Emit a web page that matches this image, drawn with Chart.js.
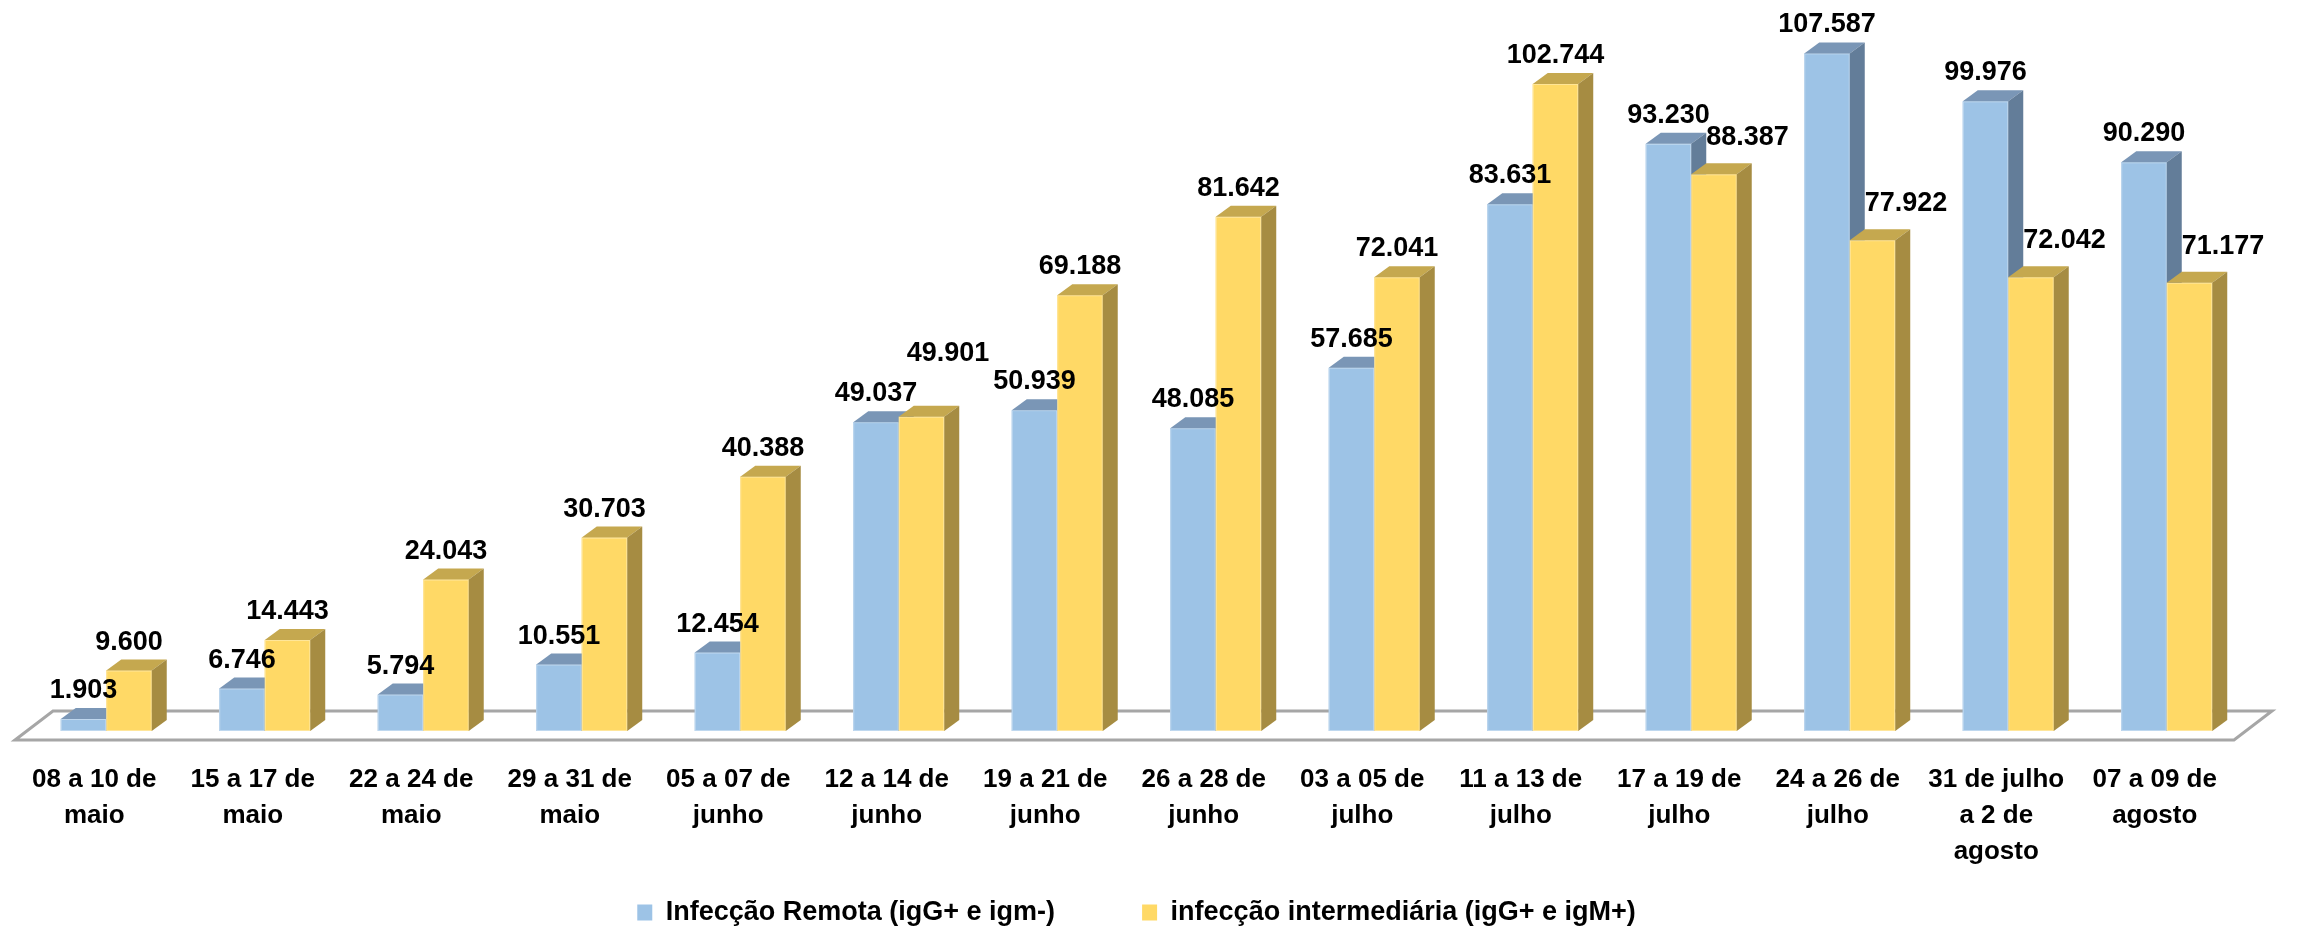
<!DOCTYPE html>
<html lang="pt-BR">
<head>
<meta charset="utf-8">
<title>Infecção remota x intermediária</title>
<script src="https://cdn.jsdelivr.net/npm/chart.js@4.4.1/dist/chart.umd.min.js"></script>
<style>
  html, body { margin: 0; padding: 0; background: #fff; }
  #wrap { width: 2318px; height: 932px; }
</style>
</head>
<body>
<div id="wrap"><canvas id="barChart"></canvas></div>
<script>
// períodos do eixo x (cada linha do rótulo é um item)
const periodos = [
  ['08 a 10 de', 'maio'],
  ['15 a 17 de', 'maio'],
  ['22 a 24 de', 'maio'],
  ['29 a 31 de', 'maio'],
  ['05 a 07 de', 'junho'],
  ['12 a 14 de', 'junho'],
  ['19 a 21 de', 'junho'],
  ['26 a 28 de', 'junho'],
  ['03 a 05 de', 'julho'],
  ['11 a 13 de', 'julho'],
  ['17 a 19 de', 'julho'],
  ['24 a 26 de', 'julho'],
  ['31 de julho', 'a 2 de', 'agosto'],
  ['07 a 09 de', 'agosto']
];
const remota = [1903, 6746, 5794, 10551, 12454, 49037, 50939, 48085, 57685, 83631, 93230, 107587, 99976, 90290];
const intermediaria = [9600, 14443, 24043, 30703, 40388, 49901, 69188, 81642, 72041, 102744, 88387, 77922, 72042, 71177];
const nomeRemota = 'Infecção Remota (igG+ e igm-)';
const nomeIntermediaria = 'infecção intermediária (igG+ e igM+)';
const yMax = 114000;

const FONT = "'Liberation Sans', Arial, sans-serif";
const DX = 15, DY = 11;   // profundidade do efeito 3D
const faces = [
  { front: '#9DC3E6', top: '#7A96B6', side: '#637D99' },
  { front: '#FFD966', top: '#C5A84F', side: '#A68C42' }
];

function fmt(v) { return String(v).replace(/\B(?=(\d{3})+(?!\d))/g, '.'); }

const bars3d = {
  id: 'bars3d',
  beforeDatasetsDraw(chart) {
    // piso do gráfico
    const ctx = chart.ctx, a = chart.chartArea;
    const base = chart.scales.y.getPixelForValue(0);
    ctx.save();
    ctx.beginPath();
    ctx.moveTo(a.left - 12, base + 9);
    ctx.lineTo(a.left + 26, base - 20);
    ctx.lineTo(a.right + 26, base - 20);
    ctx.lineTo(a.right - 12, base + 9);
    ctx.closePath();
    ctx.fillStyle = '#fff';
    ctx.fill();
    ctx.lineWidth = 3;
    ctx.strokeStyle = '#A6A6A6';
    ctx.stroke();
    ctx.restore();
  },
  afterDatasetsDraw(chart) {
    const ctx = chart.ctx;
    const metas = [chart.getDatasetMeta(0), chart.getDatasetMeta(1)];
    const n = chart.data.labels.length;
    ctx.save();
    for (let i = 0; i < n; i++) {
      metas.forEach((meta, d) => {
        const b = meta.data[i].getProps(['x', 'y', 'base', 'width'], true);
        const x0 = b.x - b.width / 2, x1 = b.x + b.width / 2;
        const c = faces[d];
        ctx.fillStyle = c.front;
        ctx.fillRect(x0, b.y, b.width, b.base - b.y);
        ctx.strokeStyle = 'rgba(255,255,255,0.35)';
        ctx.lineWidth = 1;
        ctx.strokeRect(x0 + 0.5, b.y + 0.5, b.width - 1, b.base - b.y - 1);
        // topo
        ctx.fillStyle = c.top;
        ctx.beginPath();
        ctx.moveTo(x0, b.y);
        ctx.lineTo(x0 + DX, b.y - DY);
        ctx.lineTo(x1 + DX, b.y - DY);
        ctx.lineTo(x1, b.y);
        ctx.closePath();
        ctx.fill();
        // lateral
        ctx.fillStyle = c.side;
        ctx.beginPath();
        ctx.moveTo(x1, b.y);
        ctx.lineTo(x1 + DX, b.y - DY);
        ctx.lineTo(x1 + DX, b.base - DY);
        ctx.lineTo(x1, b.base);
        ctx.closePath();
        ctx.fill();
      });
    }

    // rótulos de valor
    ctx.font = 'bold 27px ' + FONT;
    ctx.fillStyle = '#000';
    ctx.textBaseline = 'alphabetic';
    ctx.textAlign = 'left';
    const ds = chart.data.datasets;
    for (let i = 0; i < n; i++) {
      const bb = metas[0].data[i].getProps(['x', 'y', 'width'], true);
      const yb = metas[1].data[i].getProps(['x', 'y', 'width'], true);
      const tB = fmt(ds[0].data[i]);
      const wB = ctx.measureText(tB).width;
      const bx = bb.x - wB / 2, by = bb.y - DY - 10;
      ctx.fillText(tB, bx, by);

      const tY = fmt(ds[1].data[i]);
      const wY = ctx.measureText(tY).width;
      let lx = yb.x - wY / 2, ly = yb.y - DY - 10;
      const blueRight = bb.x + bb.width / 2 + DX;
      const blueBackTop = bb.y - DY;
      if (lx < blueRight && ly + 4 > blueBackTop) {
        // barra azul mais alta: rótulo vai para a direita
        lx = blueRight;
        ly = yb.y - DY - 18;
      } else if (lx < bx + wB && ly > by - 24) {
        // colide com o rótulo azul
        lx = Math.max(lx, yb.x - yb.width / 2 + 8);
        ly = by - 40;
      }
      ctx.fillText(tY, lx, ly);
    }
    ctx.restore();
  }
};

const CHART = document.getElementById('barChart');
Chart.defaults.font.family = FONT;
Chart.defaults.color = '#000';

const grafico = new Chart(CHART, {
  type: 'bar',
  data: {
    labels: periodos,
    datasets: [
      { label: nomeRemota, data: remota, backgroundColor: faces[0].front, borderWidth: 0 },
      { label: nomeIntermediaria, data: intermediaria, backgroundColor: faces[1].front, borderWidth: 0 }
    ]
  },
  options: {
    responsive: true,
    maintainAspectRatio: false,
    animation: false,
    devicePixelRatio: 1,
    categoryPercentage: 0.574,
    barPercentage: 1,
    layout: { padding: { top: 13, left: 27, right: 72, bottom: -4 } },
    scales: {
      x: {
        grid: { display: false, drawTicks: false },
        border: { display: false },
        ticks: {
          autoSkip: false,
          maxRotation: 0,
          padding: 31,
          labelOffset: -12,
          color: '#000',
          font: { size: 26, weight: 'bold', lineHeight: 1.385 }
        },
        // altura fixa: a base das barras fica em y = 731
        afterFit(scale) { scale.height = 158; }
      },
      y: {
        display: false,
        min: 0,
        max: yMax
      }
    },
    plugins: {
      tooltip: { enabled: false },
      legend: {
        position: 'bottom',
        labels: {
          boxWidth: 15,
          boxHeight: 16,
          padding: 10,
          color: '#000',
          font: { size: 27, weight: 'bold' },
          generateLabels(chart) {
            const items = Chart.defaults.plugins.legend.labels.generateLabels(chart);
            const vazio = () => ({ text: '', fillStyle: 'rgba(0,0,0,0)', strokeStyle: 'rgba(0,0,0,0)', lineWidth: 0, hidden: false, datasetIndex: -1 });
            return [items[0], vazio(), vazio(), items[1]];
          }
        }
      }
    }
  },
  plugins: [bars3d]
});
</script>
</body>
</html>
